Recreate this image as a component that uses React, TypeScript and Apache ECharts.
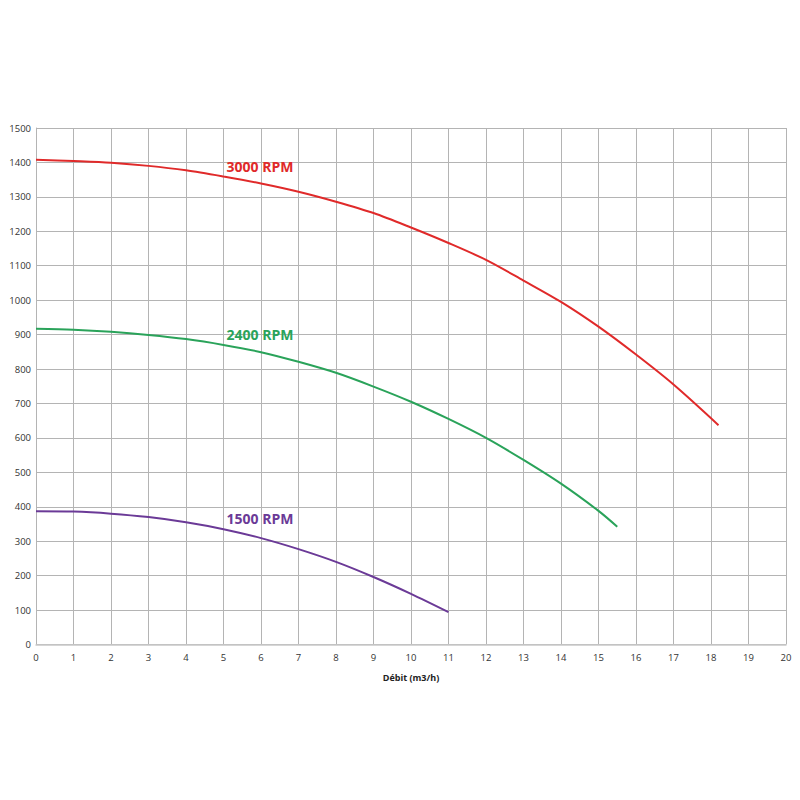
import React, { useEffect, useRef } from "react";
import * as echarts from "echarts";

const xRed = [0, 1, 2, 3, 4, 5, 6, 7, 8, 9, 10, 11, 12, 13, 14, 15, 16, 17, 18.2];
const yRed = [1408, 1404, 1399, 1390, 1377, 1359, 1339, 1315, 1286, 1253, 1211, 1166, 1117, 1057, 995, 923, 842, 755, 637];

const xGreen = [0, 1, 2, 3, 4, 5, 6, 7, 8, 9, 10, 11, 12, 13, 14, 15, 15.5];
const yGreen = [917, 914, 908, 899, 887, 870, 849, 821, 789, 749, 705, 655, 600, 536, 467, 388, 342];

const xPurple = [0, 1, 2, 3, 4, 5, 6, 7, 8, 9, 10, 11];
const yPurple = [387, 386, 380, 370, 355, 335, 309, 277, 240, 196, 147, 94];

const seriesNames = ["3000 RPM", "2400 RPM", "1500 RPM"];
const seriesColors = ["#e02a2a", "#2aa35a", "#6b3a97"];
const xAxisTitle = "Débit (m3/h)";

export default function App() {
  const ref = useRef<HTMLDivElement>(null);
  useEffect(() => {
    const chart = echarts.init(ref.current!, null, { renderer: "svg" });
    const pairs = (xs: number[], ys: number[]) => xs.map((x, i) => [x, ys[i]]);
    const data = [pairs(xRed, yRed), pairs(xGreen, yGreen), pairs(xPurple, yPurple)];
    const labelPos = [
      [260, 166],
      [260, 334],
      [260, 518],
    ];
    chart.setOption({
      animation: false,
      backgroundColor: "#ffffff",
      textStyle: { fontFamily: "Open Sans" },
      grid: { left: 36, right: 14, top: 128, bottom: 155.5, containLabel: false },
      xAxis: {
        type: "value",
        min: 0,
        max: 20,
        interval: 1,
        name: xAxisTitle,
        nameLocation: "middle",
        nameGap: 28,
        nameTextStyle: { fontSize: 9, fontWeight: "bold", color: "#222" },
        axisLine: { show: true, lineStyle: { color: "#c8c8c8", width: 1.5 } },
        axisTick: { show: false },
        axisLabel: { fontSize: 9.5, color: "#333", margin: 8, formatter: (v: number) => String(v) },
        splitLine: { show: true, lineStyle: { color: "#b4b4b4", width: 1 } },
      },
      yAxis: {
        type: "value",
        min: 0,
        max: 1500,
        interval: 100,
        axisLine: { show: true, lineStyle: { color: "#b4b4b4", width: 1 } },
        axisTick: { show: false },
        axisLabel: { fontSize: 9.5, color: "#333", margin: 5, formatter: (v: number) => String(v) },
        splitLine: { show: true, lineStyle: { color: "#b4b4b4", width: 1 } },
      },
      series: data.map((d, i) => ({
        type: "line",
        name: seriesNames[i],
        data: d,
        smooth: 0.3,
        showSymbol: false,
        lineStyle: { color: seriesColors[i], width: 2 },
        z: 5,
      })),
      graphic: seriesNames.map((n, i) => ({
        type: "text",
        x: labelPos[i][0],
        y: labelPos[i][1],
        style: {
          text: n,
          fill: seriesColors[i],
          font: "bold 14px 'Open Sans'",
          textAlign: "center",
          textVerticalAlign: "middle",
        },
        z: 10,
      })),
    });
    return () => chart.dispose();
  }, []);
  return <div ref={ref} style={{ position: "fixed", left: 0, top: 0, width: 800, height: 800 }} />;
}
